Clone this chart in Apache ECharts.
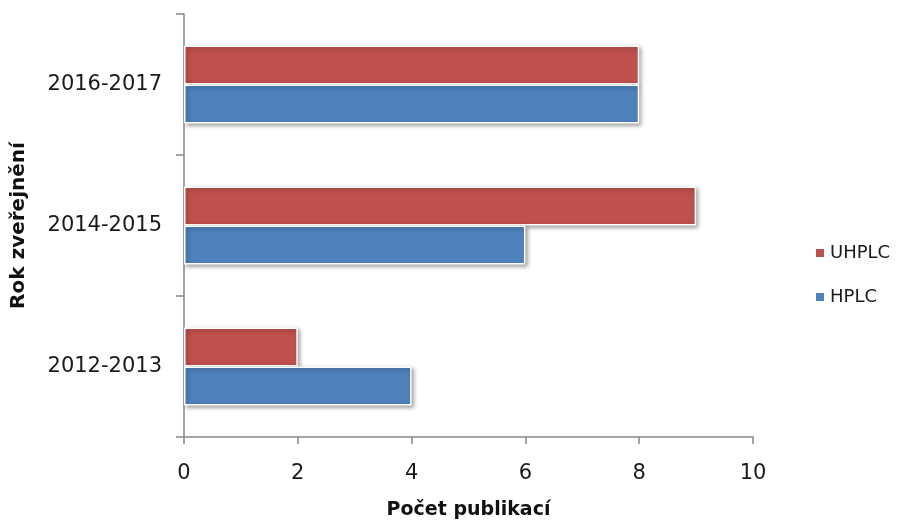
<!DOCTYPE html>
<html>
<head>
<meta charset="utf-8">
<script src="https://cdn.jsdelivr.net/npm/echarts@6/dist/echarts.min.js"></script>
<style>
  html, body { margin: 0; padding: 0; background: #ffffff; }
  #chart { width: 905px; height: 525px; }
</style>
</head>
<body>
<div id="chart"></div>
<script>
// Publication counts per two-year period, by chromatography technique
const categories = ['2012-2013', '2014-2015', '2016-2017'];
const hplcValues = [4, 6, 8];
const uhplcValues = [2, 9, 8];
const xTicks = { min: 0, max: 10, interval: 2 };

const FONT = '"DejaVu Sans", sans-serif';
const AXIS_GREY = '#878787';

const barStyle = (color) => ({
  color: color,
  borderColor: '#ffffff',
  borderWidth: 1.5,
  shadowColor: 'rgba(0,0,0,0.35)',
  shadowBlur: 4,
  shadowOffsetX: 2,
  shadowOffsetY: 2
});

const chart = echarts.init(document.getElementById('chart'), null, { renderer: 'canvas' });

chart.setOption({
  animation: false,
  backgroundColor: '#ffffff',
  textStyle: { fontFamily: FONT },
  grid: { left: 184, right: 152, top: 14, bottom: 87, containLabel: false },
  legend: {
    orient: 'vertical',
    left: 809,
    top: 239,
    icon: 'rect',
    itemWidth: 10,
    itemHeight: 10,
    itemGap: 26,
    data: ['UHPLC', 'HPLC'],
    textStyle: { fontFamily: FONT, fontSize: 18, color: '#1a1a1a', padding: [0, 0, 0, 0] }
  },
  xAxis: {
    type: 'value',
    min: xTicks.min,
    max: xTicks.max,
    interval: xTicks.interval,
    name: 'Počet publikací',
    nameLocation: 'middle',
    nameGap: 64,
    nameTextStyle: { fontFamily: FONT, fontSize: 19, fontWeight: 'bold', color: '#111111' },
    axisLine: { show: true, lineStyle: { color: AXIS_GREY, width: 1.5 } },
    axisTick: { show: true, length: 7, lineStyle: { color: AXIS_GREY, width: 1.5 } },
    axisLabel: { margin: 26, fontFamily: FONT, fontSize: 21, color: '#1a1a1a' },
    splitLine: { show: false }
  },
  yAxis: {
    type: 'category',
    data: categories,
    name: 'Rok zveřejnění',
    nameLocation: 'middle',
    nameGap: 155,
    nameRotate: 90,
    nameTextStyle: { fontFamily: FONT, fontSize: 20, fontWeight: 'bold', color: '#111111' },
    axisLine: { show: true, lineStyle: { color: AXIS_GREY, width: 1.5 } },
    axisTick: { show: true, length: 8, lineStyle: { color: AXIS_GREY, width: 1.5 } },
    axisLabel: { margin: 22, fontFamily: FONT, fontSize: 21, color: '#1a1a1a' }
  },
  series: [
    {
      name: 'UHPLC',
      type: 'bar',
      data: uhplcValues,
      barWidth: 39,
      barGap: '0%',
      itemStyle: barStyle('#C0504D')
    },
    {
      name: 'HPLC',
      type: 'bar',
      data: hplcValues,
      barWidth: 39,
      barGap: '0%',
      itemStyle: barStyle('#4F81BD')
    }
  ]
});
</script>
</body>
</html>
